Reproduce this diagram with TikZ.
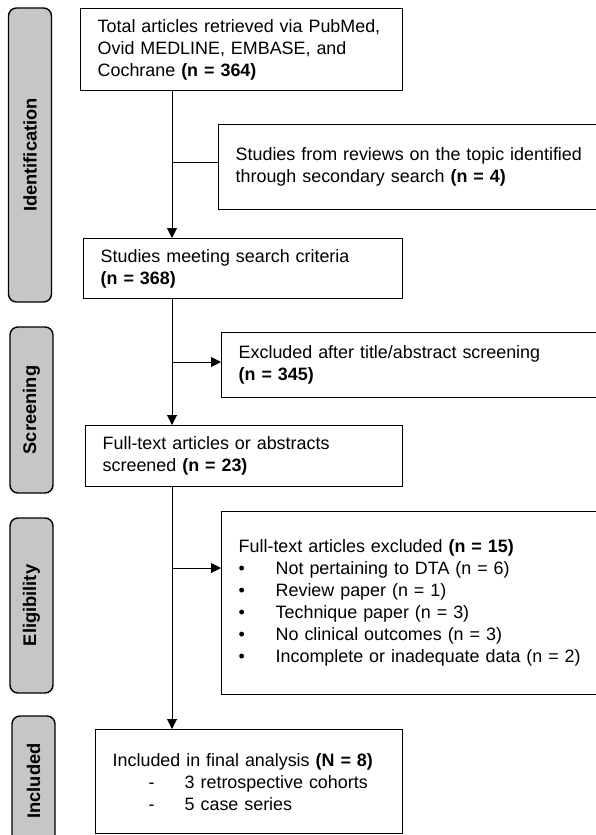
\documentclass[tikz,border=0pt]{standalone}
\usepackage{fontspec}
\setmainfont{Liberation Sans}
\usepackage{tikz}
\usetikzlibrary{arrows.meta}

\begin{document}
\begin{tikzpicture}[x=1bp, y=-1bp, >={Triangle[length=10bp, width=10bp]}]
    \tikzset{
      box/.style={
        draw,
        line width=1.4bp,
        anchor=north west,
        inner xsep=17bp,
        inner ysep=0pt,
        align=left,
        font=\fontsize{17.9bp}{22bp}\selectfont},
      stage/.style={
        draw,
        fill=gray!45,
        line width=1.4bp,
        rounded corners=8bp,
        rotate=90,
        minimum height=43bp,
        inner sep=0pt,
        font=\fontsize{18.3bp}{22bp}\selectfont\bfseries},
      link/.style={line width=1bp}}
    \useasboundingbox (0, 0) rectangle (596, 835);
    \node[stage, minimum width=294bp] at (30, 155) (ident) {Identification};
    \node[stage, minimum width=166bp] at (31.5, 410) (scr) {Screening};
    \node[stage, minimum width=175bp] at (31.5, 605.5) (elig) {Eligibility};
    \node[stage, minimum width=130bp] at (33.5, 781) (incl) {Included};
    \node[box, text width=288bp, minimum height=82bp] at (80, 8) (search)
      {Total articles retrieved via PubMed,\\ Ovid MEDLINE, EMBASE, and\\ Cochrane \textbf{(n = 364)}};
    \node[box, text width=358bp, minimum height=85bp] at (218, 124) (extra)
      {Studies from reviews on the topic identified\\ through secondary search \textbf{(n = 4)}};
    \node[box, text width=285bp, minimum height=60bp] at (83, 238) (meet)
      {Studies meeting search criteria\\ \textbf{(n = 368)}};
    \node[box, text width=355bp, minimum height=65bp] at (221, 332) (excl1)
      {Excluded after title/abstract screening\\ \textbf{(n = 345)}};
    \node[box, text width=283bp, minimum height=61bp] at (85, 425) (screen)
      {Full-text articles or abstracts\\ screened \textbf{(n = 23)}};
    \node[box, text width=355bp, minimum height=183bp] at (221, 511) (excl2)
      {Full-text articles excluded \textbf{(n = 15)}\\
       \makebox[37bp][l]{\textbullet}Not pertaining to DTA (n = 6)\\
       \makebox[37bp][l]{\textbullet}Review paper (n = 1)\\
       \makebox[37bp][l]{\textbullet}Technique paper (n = 3)\\
       \makebox[37bp][l]{\textbullet}No clinical outcomes (n = 3)\\
       \makebox[37bp][l]{\textbullet}Incomplete or inadequate data (n = 2)};
    \node[box, text width=273bp, minimum height=104bp] at (95, 729) (final)
      {Included in final analysis \textbf{(N = 8)}\\
       \hspace*{36bp}\makebox[36bp][l]{-}3 retrospective cohorts\\
       \hspace*{36bp}\makebox[36bp][l]{-}5 case series};
    \coordinate (spine) at (172, 0);
    \coordinate (j1) at (172, 162);
    \coordinate (j2) at (172, 362);
    \coordinate (j3) at (172, 568);
    \draw[link, ->] (search.south -| spine) -- (meet.north -| spine);
    \draw[link] (j1) -- (j1 -| extra.west);
    \draw[link, ->] (meet.south -| spine) -- (screen.north -| spine);
    \draw[link, ->] (j2) -- (j2 -| excl1.west);
    \draw[link, ->] (screen.south -| spine) -- (final.north -| spine);
    \draw[link, ->] (j3) -- (j3 -| excl2.west);
\end{tikzpicture}
\end{document}
